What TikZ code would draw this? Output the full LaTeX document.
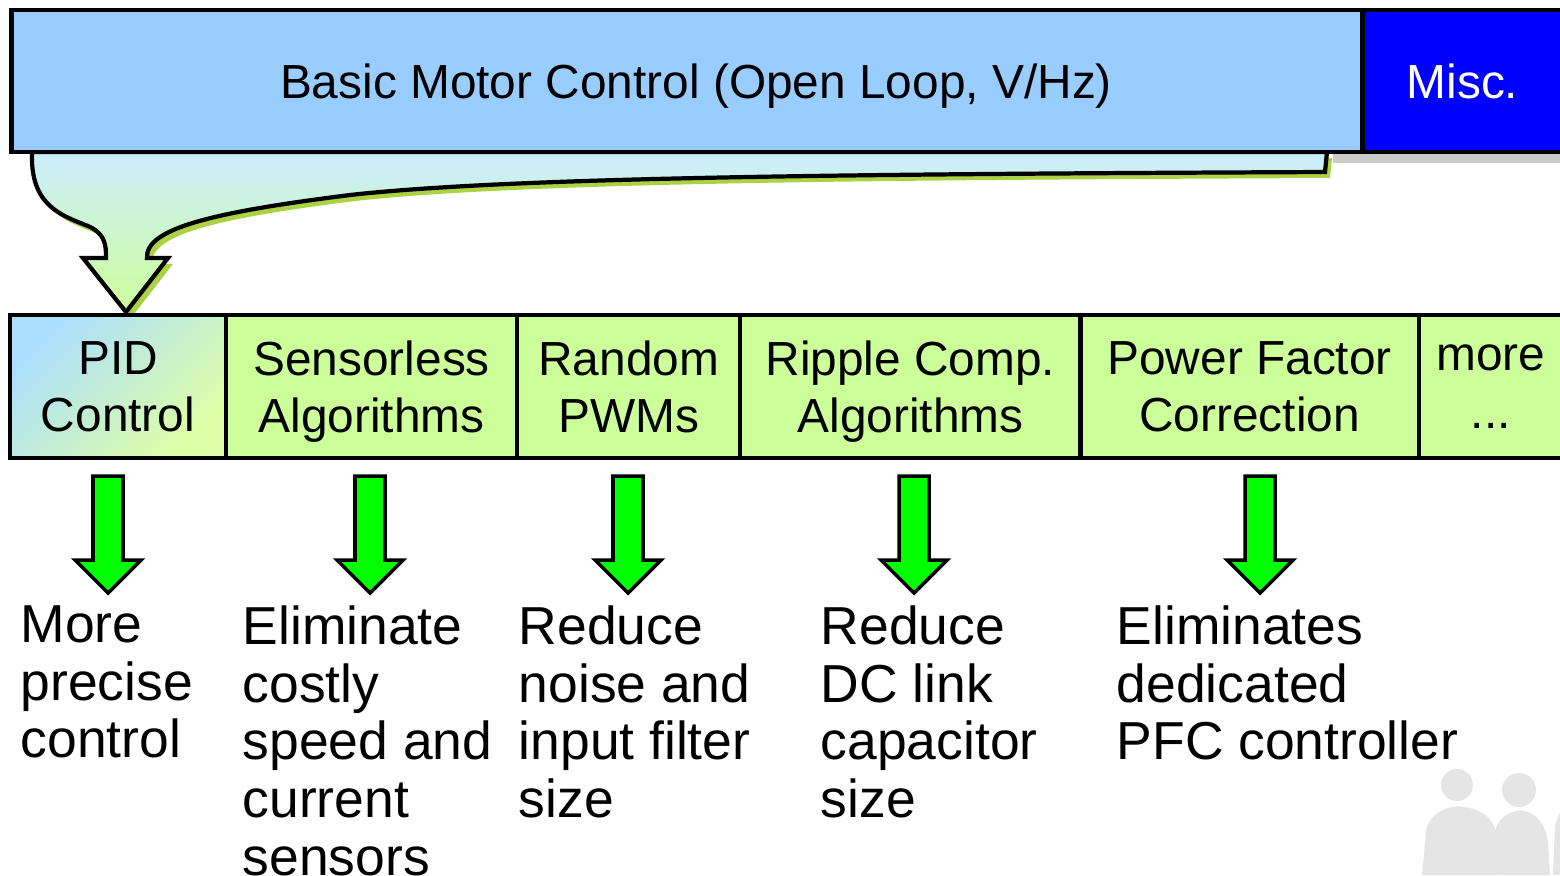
\documentclass[tikz,border=0pt]{standalone}
\usepackage{fontspec}
\setmainfont{Liberation Sans}
\definecolor{qqccff}{rgb}{0.6,0.8,1.}
\definecolor{qqqqff}{rgb}{0.,0.,1.}
\definecolor{ccffqq}{rgb}{0.8,1.,0.6}
\definecolor{qqffqq}{rgb}{0.,1.,0.}
\definecolor{cceeff}{rgb}{0.8,0.93,1.}
\definecolor{aaddff}{rgb}{0.67,0.87,1.}
\definecolor{ccffff}{rgb}{0.8,1.,1.}
\definecolor{ddffaa}{rgb}{0.87,1.,0.65}
\definecolor{aacczz}{rgb}{0.67,0.82,0.27}
\definecolor{eeeeee}{rgb}{0.9,0.9,0.9}
\newcommand{\mcfont}{\fontsize{13.6pt}{16.3pt}\selectfont}
\newcommand{\notefont}{\fontsize{15.2pt}{16.4pt}\selectfont}
\newcommand{\feedpath}{(32,152) .. controls (30,205) and (60,215) .. (88,226) .. controls (106,234) and (106,246) .. (106,258) -- (83,258) -- (126,312) -- (168,258) -- (147,258) .. controls (145,228) and (215,212) .. (350,195) .. controls (520,176) and (900,174) .. (1325,172) -- (1327,152) -- cycle}
\tikzset{
  bar/.style={draw,line width=1.3pt,minimum height=1.42cm,inner sep=0pt,outer sep=0pt,text depth=0pt,font=\mcfont},
  cell/.style={draw,line width=1.2pt,fill=ccffqq,minimum height=1.43cm,align=center,inner sep=0pt,outer sep=0pt,text depth=0pt,font=\mcfont},
  greenarrow/.style={draw,line width=1pt,fill=qqffqq},
  note/.style={anchor=north west,align=left,inner sep=0pt,font=\notefont}
}
\begin{document}
\begin{tikzpicture}[line join=miter,x=0.01cm,y=-0.01cm]
\useasboundingbox (0,0) rectangle (1560,875);
% people in the background
\fill[eeeeee] (1457,785) circle (16);
\fill[eeeeee] (1422,875) -- (1426,832) .. controls (1428,815) and (1443,808) .. (1457,806) .. controls (1478,808) and (1492,815) .. (1496,832) -- (1500,875) -- cycle;
\fill[eeeeee] (1519,790) circle (17);
\fill[eeeeee] (1492,875) -- (1494,835) .. controls (1497,818) and (1508,812) .. (1520,810) .. controls (1535,812) and (1545,822) .. (1548,842) -- (1550,875) -- cycle;
\fill[eeeeee] (1553,875) -- (1555,825) -- (1560,812) -- (1560,875) -- cycle;
% big arrow from the top bar
\fill[gray!40] (1333,151) rectangle (1560,163);
\fill[aacczz,shift={(5,6)}] \feedpath;
\draw[line width=1.2pt,top color=cceeff,bottom color=ccffqq] \feedpath;
% top bar
\node[bar,fill=qqccff,minimum width=13.5cm] (basic) at (687,81) {\hspace{0.18cm}Basic Motor Control (Open Loop, V/Hz)};
\node[bar,fill=qqqqff,text=white,minimum width=2.0cm,anchor=west] (misc) at (basic.east) {Misc.};
% row of features
\node[cell,minimum width=2.16cm,top color=aaddff,middle color=ccffff,bottom color=ddffaa,shading angle=45] (pid) at (118,386.5) {PID\\Control};
\node[cell,minimum width=2.91cm,anchor=west] (sensorless) at (pid.east) {Sensorless\\Algorithms};
\node[cell,minimum width=2.23cm,anchor=west] (random) at (sensorless.east) {Random\\PWMs};
\node[cell,minimum width=3.40cm,anchor=west] (ripple) at (random.east) {Ripple Comp.\\Algorithms};
\node[cell,minimum width=3.38cm,anchor=west] (pfc) at (ripple.east) {Power Factor\\Correction};
\node[cell,minimum width=1.44cm,anchor=west] (more) at (pfc.east) {more\\...};
% green arrows
\foreach \x in {108,370,628,914,1260}
  \draw[greenarrow] ({\x-15},476) -- ({\x+15},476) -- ({\x+15},560) -- ({\x+33},560) -- (\x,593) -- ({\x-33},560) -- ({\x-15},560) -- cycle;
% benefits
\node[note] (precise) at (20,605) {More\\precise\\control};
\node[note] (costly) at (242,605) {Eliminate\\costly\\speed and\\current\\sensors};
\node[note] (noise) at (518,605) {Reduce\\noise and\\input filter\\size};
\node[note] (dclink) at (820,605) {Reduce\\DC link\\capacitor\\size};
\node[note] (dedicated) at (1116,605) {Eliminates\\dedicated\\PFC controller};
\end{tikzpicture}
\end{document}
